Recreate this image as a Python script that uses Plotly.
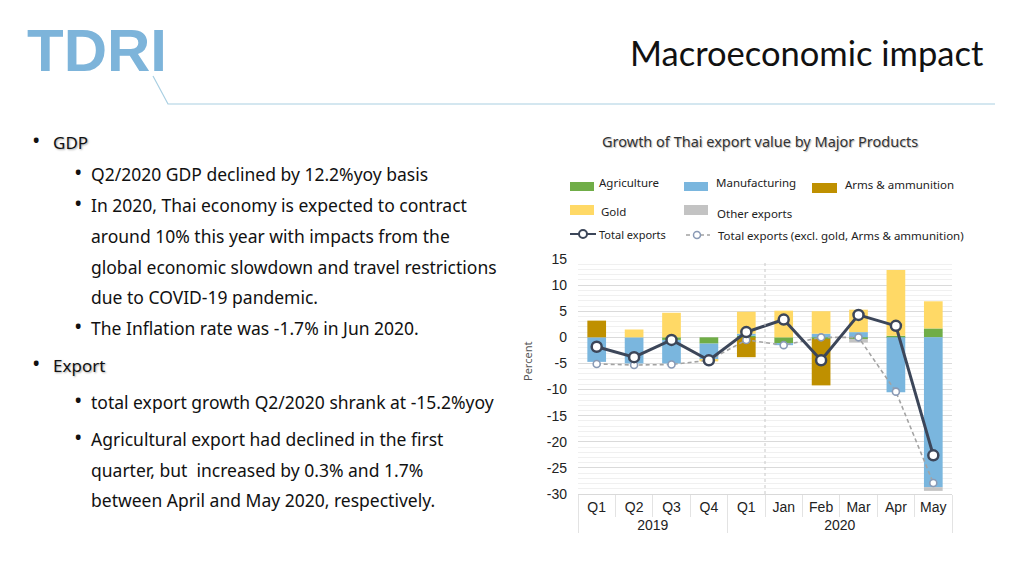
import plotly.graph_objects as go

W, H = 1024, 576

years = ["2019"] * 4 + ["2020"] * 6
periods = ["Q1", "Q2", "Q3", "Q4", "Q1", "Jan", "Feb", "Mar", "Apr", "May"]

agriculture = [0.0, 0.0, -0.5, -1.2, 0.3, -1.1, -0.3, -0.3, 0.3, 1.7]
manufacturing = [-4.7, -5.0, -4.5, -3.1, 0.4, -0.4, 0.7, 1.0, -10.5, -28.7]
arms = [3.2, 0.0, 0.0, 0.0, -3.8, 0.0, -8.9, 0.0, 0.0, 0.0]
gold = [0.0, 1.5, 4.7, -0.3, 4.2, 5.1, 4.3, 4.3, 12.6, 5.2]
other = [0.0, 0.0, 0.0, 0.0, 0.0, 0.0, 0.0, -0.7, 0.0, -0.7]
total = [-1.8, -3.8, -0.5, -4.4, 1.0, 3.4, -4.4, 4.3, 2.2, -22.6]
total_excl = [-5.1, -5.3, -5.2, -4.4, -0.5, -1.5, 0.0, 0.0, -10.4, -27.9]

ytick_vals = [15, 10, 5, 0, -5, -10, -15, -20, -25, -30]
ytick_text = ["15", "10", "5", "0", "-5", "-10", "-15", "-20", "-25", "-30"]

bar_names = ["Agriculture", "Manufacturing", "Arms & ammunition", "Gold", "Other exports"]
bar_colors = ["#70ad47", "#7ab6de", "#bf9000", "#ffd966", "#c3c3c3"]
bar_series = [agriculture, manufacturing, arms, gold, other]
line_names = ["Total exports", "Total exports (excl. gold, Arms & ammunition)"]

x = [years, periods]

fig = go.Figure()
for name, col, vals in zip(bar_names, bar_colors, bar_series):
    fig.add_trace(go.Bar(x=x, y=vals, name=name, marker=dict(color=col, line=dict(width=0)),
                         showlegend=False))

fig.add_trace(go.Scatter(x=x, y=total_excl, name=line_names[1], mode="lines+markers",
                         line=dict(color="#a3a3a3", width=1.6, dash="4px,3px"),
                         marker=dict(size=7, color="white", line=dict(color="#8a9ab5", width=1.6)),
                         showlegend=False))
fig.add_trace(go.Scatter(x=x, y=total, name=line_names[0], mode="lines+markers",
                         line=dict(color="#3c4659", width=3),
                         marker=dict(size=10, color="white", line=dict(color="#3c4659", width=2.5)),
                         showlegend=False))

def px(xp):
    return xp / W

def py(yp):
    return 1 - yp / H

shapes = []
annotations = []

# vertical dotted separator between Q1 2020 and Jan
shapes.append(dict(type="line", xref="x", yref="paper", x0=4.5, x1=4.5,
                   y0=py(494), y1=py(263), line=dict(color="#c8c8c8", width=1, dash="dot")))

# header decoration
shapes.append(dict(type="path", xref="paper", yref="paper",
                   path=f"M {px(153)},{py(76)} L {px(168)},{py(104)} L {px(995)},{py(104)}",
                   line=dict(color="#a9cfe2", width=1.2)))
annotations.append(dict(text="<b>TDRI</b>", x=px(25), y=py(50), xref="paper", yref="paper",
                        xanchor="left", yanchor="middle", showarrow=False,
                        font=dict(family="Liberation Sans", size=60, color="#7db4da")))
annotations.append(dict(text="Macroeconomic impact", x=px(986), y=py(53), xref="paper", yref="paper",
                        xanchor="right", yanchor="middle", showarrow=False,
                        font=dict(family="Lato", size=34.5, color="#111111")))

# chart title
annotations.append(dict(text="Growth of Thai export value by Major Products", x=px(760), y=py(141),
                        xref="paper", yref="paper", xanchor="center", yanchor="middle", showarrow=False,
                        font=dict(family="Noto Sans", size=14.5, color="#333333",
                                  shadow="1px 1px 1px #bbbbbb")))

# manual legend
leg_font = dict(family="Noto Sans", size=11.5, color="#222222")
rect_items = [
    (570, 594, 182, 191, 597, 182, bar_names[0], bar_colors[0]),
    (684, 708, 182, 191, 714, 182, bar_names[1], bar_colors[1]),
    (812, 837, 183, 193, 843, 184, bar_names[2], bar_colors[2]),
    (570, 594, 205, 215, 599, 211, bar_names[3], bar_colors[3]),
    (684, 708, 205, 215, 715, 213, bar_names[4], bar_colors[4]),
]
for x0, x1, y0, y1, tx, ty, name, col in rect_items:
    shapes.append(dict(type="rect", xref="paper", yref="paper", x0=px(x0), x1=px(x1),
                       y0=py(y1), y1=py(y0), fillcolor=col, line=dict(width=0)))
    annotations.append(dict(text=name, x=px(tx), y=py(ty), xref="paper", yref="paper",
                            xanchor="left", yanchor="middle", showarrow=False, font=leg_font))

# line legend entries
shapes.append(dict(type="line", xref="paper", yref="paper", x0=px(570), x1=px(596),
                   y0=py(234), y1=py(234), line=dict(color="#3c4659", width=2)))
shapes.append(dict(type="circle", xref="paper", yref="paper", x0=px(579), x1=px(587),
                   y0=py(238), y1=py(230), fillcolor="white", line=dict(color="#3c4659", width=2)))
annotations.append(dict(text=line_names[0], x=px(597), y=py(234), xref="paper", yref="paper",
                        xanchor="left", yanchor="middle", showarrow=False,
                        font=dict(family="Noto Sans", size=11, color="#222222")))
shapes.append(dict(type="line", xref="paper", yref="paper", x0=px(686), x1=px(710),
                   y0=py(235), y1=py(235), line=dict(color="#a3a3a3", width=1.5, dash="4px,3px")))
shapes.append(dict(type="circle", xref="paper", yref="paper", x0=px(693.5), x1=px(700.5),
                   y0=py(238.5), y1=py(231.5), fillcolor="white", line=dict(color="#8a9ab5", width=1.5)))
annotations.append(dict(text=line_names[1], x=px(716), y=py(235), xref="paper", yref="paper",
                        xanchor="left", yanchor="middle", showarrow=False, font=leg_font))

# left-side text
body_font = dict(family="Noto Sans", size=17.5, color="#111111")
head_font = dict(family="Noto Sans", size=17, color="#111111", shadow="1px 1px 2px #aaaaaa")
bullet_font = dict(family="Noto Sans", size=17, color="#111111")
heads = [("GDP", 143), ("Export", 365)]
subs = [
    ("Q2/2020 GDP declined by 12.2%yoy basis", 174, True),
    ("In 2020, Thai economy is expected to contract", 205, True),
    ("around 10% this year with impacts from the", 236, False),
    ("global economic slowdown and travel restrictions", 267, False),
    ("due to COVID-19 pandemic.", 297, False),
    ("The Inflation rate was -1.7% in Jun 2020.", 328, True),
    ("total export growth Q2/2020 shrank at -15.2%yoy", 402, True),
    ("Agricultural export had declined in the first", 439, True),
    ("quarter, but  increased by 0.3% and 1.7%", 470, False),
    ("between April and May 2020, respectively.", 500, False),
]
for text, yy in heads:
    annotations.append(dict(text="<b>•</b>", x=px(31), y=py(yy - 2), xref="paper", yref="paper",
                            xanchor="left", yanchor="middle", showarrow=False, font=bullet_font))
    annotations.append(dict(text=text, x=px(51), y=py(yy), xref="paper", yref="paper",
                            xanchor="left", yanchor="middle", showarrow=False, font=head_font))
for text, yy, bullet in subs:
    if bullet:
        annotations.append(dict(text="<b>•</b>", x=px(73), y=py(yy - 2), xref="paper", yref="paper",
                                xanchor="left", yanchor="middle", showarrow=False, font=bullet_font))
    annotations.append(dict(text=text, x=px(89), y=py(yy), xref="paper", yref="paper",
                            xanchor="left", yanchor="middle", showarrow=False, font=body_font))

# percent label
annotations.append(dict(text="Percent", x=px(527), y=py(362), xref="paper", yref="paper",
                        xanchor="center", yanchor="middle", textangle=-90, showarrow=False,
                        font=dict(family="Noto Sans", size=11, color="#555555")))

fig.update_layout(
    width=W, height=H,
    margin=dict(l=0, r=0, t=0, b=0),
    paper_bgcolor="white", plot_bgcolor="white",
    barmode="relative", bargap=0.5,
    shapes=shapes, annotations=annotations,
    showlegend=False,
    xaxis=dict(domain=[px(578), px(952)], type="multicategory", range=[-0.5, 9.5],
               showline=True, linecolor="#d9d9d9", linewidth=1,
               ticks="outside", ticklen=22, tickcolor="#e3e3e3",
               showdividers=True, dividercolor="#e3e3e3", dividerwidth=1,
               tickfont=dict(family="Liberation Sans", size=14, color="#222222"),
               showgrid=False, automargin=False),
    yaxis=dict(domain=[py(494), py(259)], range=[-30, 15],
               tickvals=ytick_vals, ticktext=ytick_text,
               showgrid=True, gridcolor="#dadada", gridwidth=1,
               minor=dict(dtick=1, showgrid=True, gridcolor="#f0f0f0"),
               zeroline=False, showline=False, ticks="",
               ticklabelstandoff=10,
               tickfont=dict(family="Liberation Sans", size=14, color="#222222"),
               automargin=False),
)

fig.write_html("out.html", config={"displayModeBar": False},
               post_script="document.body.style.margin='0px';document.body.style.overflow='hidden';")
